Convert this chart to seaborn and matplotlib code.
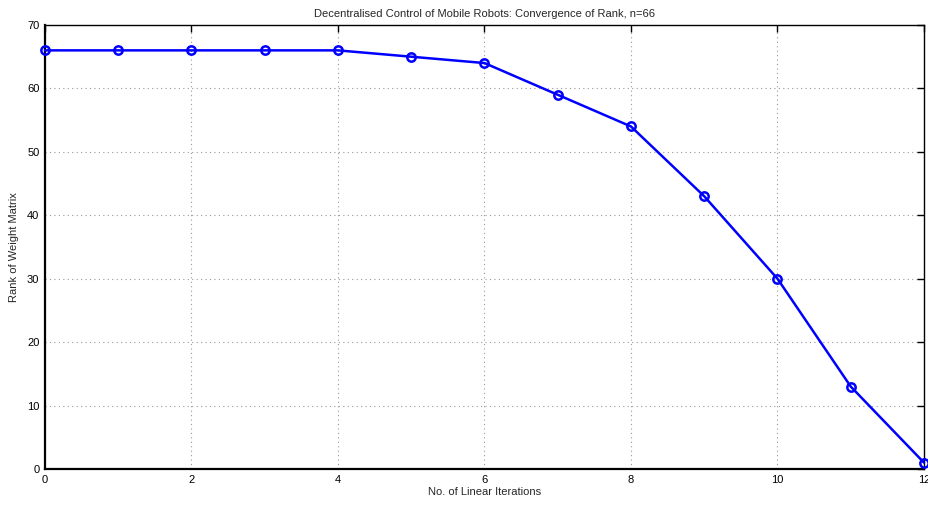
import seaborn as sns
import matplotlib.pyplot as plt
import pandas as pd

# Dados
iteracoes = [0, 1, 2, 3, 4, 5, 6, 7, 8, 9, 10, 11, 12]
rank = [66, 66, 66, 66, 66, 65, 64, 59, 54, 43, 30, 13, 1]
xticks = [0, 2, 4, 6, 8, 10, 12]
yticks = [0, 10, 20, 30, 40, 50, 60, 70]

df = pd.DataFrame({'iter': iteracoes, 'rank': rank})

sns.set_style('white')
plt.rcParams['font.family'] = ['Liberation Sans', 'DejaVu Sans']

fig = plt.figure(figsize=(9.29, 5.05), dpi=100)
ax = fig.add_axes([0.0484, 0.0713, 0.9462, 0.8792])

sns.lineplot(data=df, x='iter', y='rank', ax=ax, color='#0000ff', linewidth=1.8,
             marker='o', markersize=6, markerfacecolor='none',
             markeredgecolor='#0000ff', markeredgewidth=1.8, clip_on=False, zorder=5)

ax.set_xlim(0, 12)
ax.set_ylim(0, 70)
ax.set_xticks(xticks)
ax.set_yticks(yticks)
ax.grid(True, linestyle=(0, (1, 3)), color='#999999', linewidth=0.8)
ax.tick_params(direction='in', length=5, width=1, labelsize=8, top=True, right=True,
               colors='black', pad=4)
for s in ax.spines.values():
    s.set_color('black')
    s.set_linewidth(1.0)
ax.spines['left'].set_linewidth(1.6)
ax.spines['bottom'].set_linewidth(1.6)

ax.set_xlabel('No. of Linear Iterations', fontsize=8, labelpad=2)
ax.set_ylabel('Rank of Weight Matrix', fontsize=8, labelpad=6)
ax.set_title('Decentralised Control of Mobile Robots: Convergence of Rank, n=66', fontsize=8, pad=6)

fig.savefig('out.png', dpi=100)
